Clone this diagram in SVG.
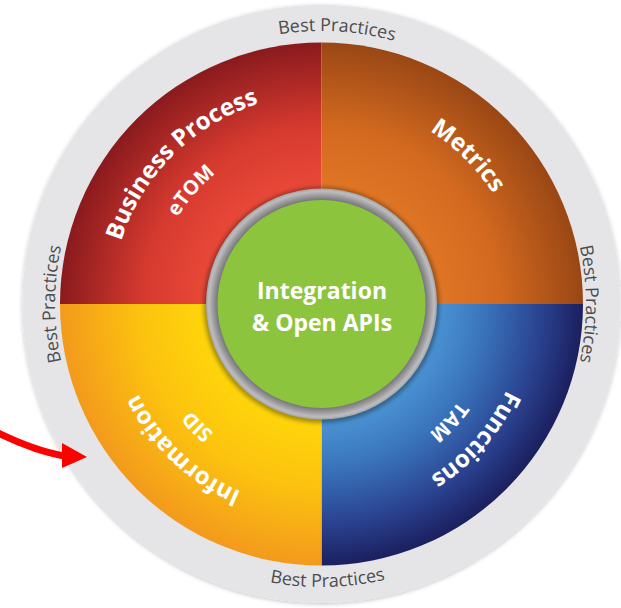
<svg xmlns="http://www.w3.org/2000/svg" xmlns:xlink="http://www.w3.org/1999/xlink" width="621" height="608" viewBox="0 0 621 608">
  <style>
    .lbl { font-family: "Open Sans", "Liberation Sans", sans-serif; font-weight: 700; fill: #ffffff; }
    .main { font-size: 24px; }
    .sub { font-size: 20px; }
    .bp { font-family: "Open Sans", "Liberation Sans", sans-serif; font-weight: 400; font-size: 18px; fill: #4d4d4f; }
    .center { font-family: "Open Sans", "Liberation Sans", sans-serif; font-weight: 700; font-size: 23px; fill: #ffffff; text-anchor: middle; }
  </style>
  <defs>
    <filter id="ringShadow" x="-10%" y="-10%" width="120%" height="120%">
      <feDropShadow dx="0" dy="1" stdDeviation="2" flood-color="#000" flood-opacity="0.25"/>
    </filter>
    <filter id="blur2" x="-20%" y="-20%" width="140%" height="140%">
      <feGaussianBlur stdDeviation="2"/>
    </filter>
    <filter id="blur1" x="-5%" y="-5%" width="110%" height="110%">
      <feGaussianBlur stdDeviation="1.3"/>
    </filter>
    <clipPath id="diskClip">
      <circle cx="321.5" cy="304" r="261.5"/>
    </clipPath>
    <radialGradient id="gRed" gradientUnits="userSpaceOnUse" cx="321.5" cy="304" r="261.5">
      <stop offset="0.4" stop-color="#ec4b39"/>
      <stop offset="0.68" stop-color="#d63a2f"/>
      <stop offset="1" stop-color="#8a1a1d"/>
    </radialGradient>
    <radialGradient id="gOrange" gradientUnits="userSpaceOnUse" cx="321.5" cy="304" r="261.5">
      <stop offset="0.4" stop-color="#e27826"/>
      <stop offset="0.68" stop-color="#d2691f"/>
      <stop offset="1" stop-color="#9a4715"/>
    </radialGradient>
    <radialGradient id="gBlue" gradientUnits="userSpaceOnUse" cx="321.5" cy="304" r="261.5">
      <stop offset="0.4" stop-color="#4f9bd9"/>
      <stop offset="0.62" stop-color="#3a75bc"/>
      <stop offset="0.84" stop-color="#2a4290"/>
      <stop offset="1" stop-color="#1b1f5e"/>
    </radialGradient>
    <radialGradient id="gYellow" gradientUnits="userSpaceOnUse" cx="321.5" cy="304" r="261.5">
      <stop offset="0.4" stop-color="#ffd90a"/>
      <stop offset="0.7" stop-color="#fcc20f"/>
      <stop offset="1" stop-color="#f39a1d"/>
    </radialGradient>
    <radialGradient id="gMetal" gradientUnits="userSpaceOnUse" cx="321.5" cy="304" r="115.5">
      <stop offset="0.89" stop-color="#6f6f72"/>
      <stop offset="0.93" stop-color="#929295"/>
      <stop offset="0.975" stop-color="#bdbdc0"/>
      <stop offset="1" stop-color="#a5a5a8"/>
    </radialGradient>
    <path id="cR210" d="M321.5,514 A210,210 0 1 1 321.5,94 A210,210 0 1 1 321.5,514"/>
    <path id="cR204" d="M321.5,508 A204,204 0 1 1 321.5,100 A204,204 0 1 1 321.5,508"/>
    <path id="cR168" d="M321.5,472 A168,168 0 1 1 321.5,136 A168,168 0 1 1 321.5,472"/>
    <path id="cR273" d="M321.5,577 A273,273 0 1 1 321.5,31 A273,273 0 1 1 321.5,577"/>
    <path id="cR266" d="M321.5,570.5 A266.5,266.5 0 1 1 321.5,37.5 A266.5,266.5 0 1 1 321.5,570.5"/>
    <path id="cR264" d="M321.5,568.5 A264.5,264.5 0 1 1 321.5,39.5 A264.5,264.5 0 1 1 321.5,568.5"/>
    <path id="cBottom" d="M38.5,304 A283,283 0 0 0 604.5,304"/>
  </defs>

  <rect width="621" height="608" fill="#ffffff"/>

  <g id="ring">
    <circle cx="321.5" cy="304" r="299" fill="#e5e5e7" filter="url(#ringShadow)"/>
    <text class="bp"><textPath xlink:href="#cR273" href="#cR273" startOffset="50.9%" text-anchor="middle">Best Practices</textPath></text>
    <text class="bp"><textPath xlink:href="#cR266" href="#cR266" startOffset="25%" text-anchor="middle">Best Practices</textPath></text>
    <text class="bp"><textPath xlink:href="#cR264" href="#cR264" startOffset="75%" text-anchor="middle">Best Practices</textPath></text>
    <text class="bp"><textPath xlink:href="#cBottom" href="#cBottom" startOffset="50.7%" text-anchor="middle">Best Practices</textPath></text>
  </g>

  <g id="business-process">
    <path d="M321.5,304 L60,304 A261.5,261.5 0 0 1 321.5,42.5 Z" fill="url(#gRed)"/>
  </g>
  <g id="metrics">
    <path d="M321.5,304 L321.5,42.5 A261.5,261.5 0 0 1 583,304 Z" fill="url(#gOrange)"/>
  </g>
  <g id="functions">
    <path d="M321.5,304 L583,304 A261.5,261.5 0 0 1 321.5,565.5 Z" fill="url(#gBlue)"/>
  </g>
  <g id="information">
    <path d="M321.5,304 L321.5,565.5 A261.5,261.5 0 0 1 60,304 Z" fill="url(#gYellow)"/>
  </g>

  <g id="divider-shadows" clip-path="url(#diskClip)">
    <line x1="320.5" y1="40" x2="320.5" y2="568" stroke="#000" stroke-opacity="0.5" stroke-width="2.5" filter="url(#blur1)"/>
    <line x1="58" y1="305.5" x2="585" y2="305.5" stroke="#000" stroke-opacity="0.45" stroke-width="3" filter="url(#blur1)"/>
  </g>

  <g id="labels">
    <text class="lbl main"><textPath xlink:href="#cR210" href="#cR210" startOffset="37.5%" text-anchor="middle">Business Process</textPath></text>
    <text class="lbl sub"><textPath xlink:href="#cR168" href="#cR168" startOffset="36.4%" text-anchor="middle">eTOM</textPath></text>
    <text class="lbl main"><textPath xlink:href="#cR204" href="#cR204" startOffset="62.4%" text-anchor="middle">Metrics</textPath></text>
    <text class="lbl main"><textPath xlink:href="#cR204" href="#cR204" startOffset="86.5%" text-anchor="middle">Functions</textPath></text>
    <text class="lbl sub"><textPath xlink:href="#cR168" href="#cR168" startOffset="86.9%" text-anchor="middle">TAM</textPath></text>
    <text class="lbl main"><textPath xlink:href="#cR204" href="#cR204" startOffset="12.1%" text-anchor="middle">Information</textPath></text>
    <text class="lbl sub"><textPath xlink:href="#cR168" href="#cR168" startOffset="12.6%" text-anchor="middle">SID</textPath></text>
  </g>

  <g id="integration">
    <circle cx="321.5" cy="305" r="118" fill="#000" fill-opacity="0.35" filter="url(#blur2)"/>
    <circle cx="321.5" cy="304" r="115.5" fill="url(#gMetal)"/>
    <circle cx="321.5" cy="304" r="104" fill="#8dc43e"/>
    <text class="center" x="322" y="299">Integration</text>
    <text class="center" x="322" y="331">&amp; Open APIs</text>
  </g>

  <g id="connectors">
    <path d="M-2,433 Q35,451 64,456" fill="none" stroke="#ff0000" stroke-width="7"/>
    <polygon points="62,443 87,457 62,468" fill="#ff0000"/>
  </g>
</svg>
